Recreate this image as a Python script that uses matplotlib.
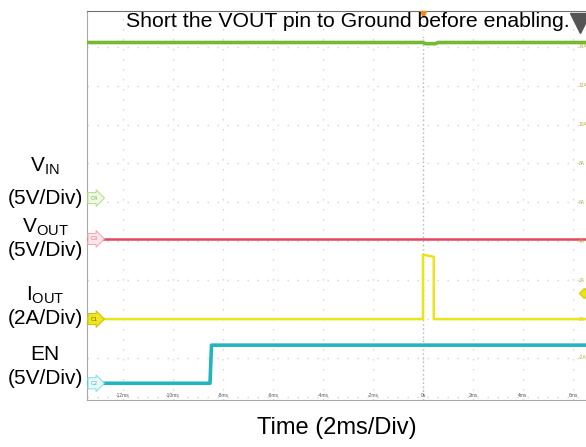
import numpy as np
import matplotlib.pyplot as plt
from matplotlib.patches import Rectangle

plt.rcParams['font.family'] = ['Liberation Sans', 'DejaVu Sans']
plt.rcParams['mathtext.fontset'] = 'custom'
plt.rcParams['mathtext.rm'] = 'Liberation Sans'
plt.rcParams['mathtext.default'] = 'regular'

# scope traces, time in ms
t_vin = [-13.5, 0.0, 0.1, 0.5, 0.6, 6.6]
vin = [20.0, 20.0, 19.85, 19.85, 20.0, 20.0]          # V

t_vout = [-13.5, 6.6]
vout = [0.0, 0.0]                                     # V

t_iout = [-13.5, 0.0, 0.0, 0.05, 0.43, 0.43, 6.6]
iout = [0.0, 0.0, 3.3, 3.3, 3.2, 0.0, 0.0]            # A

t_en = [-13.5, -8.52, -8.46, 6.6]
en = [0.0, 0.0, 4.9, 4.9]                             # V

time_ticks = [-12, -10, -8, -6, -4, -2, 0, 2, 4, 6]
time_labels = ['-12ms', '-10ms', '-8ms', '-6ms', '-4ms', '-2ms', '0s', '2ms', '4ms', '6ms']
div_rows = [-2, -1, 0, 1, 2, 3, 4, 5, 6, 7]
iout_per_div = 2  # A/Div, for the right hand scale labels
trig_level = 1.33  # A

# channel setup: (offset in div, units per div)
ch = {
    'C4': (3.11, 5.0),
    'C3': (2.06, 5.0),
    'C1': (0.0, 2.0),
    'C2': (-1.65, 5.0),
}


def to_div(vals, name):
    off, scale = ch[name]
    return [off + v / scale for v in vals]


W, H = 586, 447
fig = plt.figure(figsize=(W / 100, H / 100), dpi=100)
ax = fig.add_axes([87 / W, 1 - 400 / H, 1 - 87 / W, 389 / H])
ax.set_xlim(-13.44, 6.52)
ax.set_ylim(-2.08, 7.92)

# dotted scope grid
ax.set_xticks(time_ticks)
ax.set_yticks(div_rows)
ax.tick_params(length=0, labelbottom=False, labelleft=False)
ax.grid(True, color='#d4d4d4', linestyle=(0, (1, 6.2)), linewidth=1)
ax.axvline(0, color='#b4b4b4', linestyle=(0, (1, 2)), linewidth=1, zorder=1)

ax.spines['right'].set_visible(False)
ax.spines['top'].set_color('#707070')
ax.spines['left'].set_color('#a8a8a8')
ax.spines['bottom'].set_color('#a8a8a8')

# white strip behind the note at the top
ax.add_patch(Rectangle((0, (400 - 37) / 389), 1, 1, transform=ax.transAxes,
                       facecolor='white', edgecolor='none', zorder=1.5))

# traces
ax.plot(t_vin, to_div(vin, 'C4'), color='#76b82e', lw=2.6, zorder=3)
ax.plot(t_vout, to_div(vout, 'C3'), color='#e2465e', lw=1.8, zorder=3)
ax.plot(t_en, to_div(en, 'C2'), color='#22b5bf', lw=2.6, zorder=3)
ax.plot(t_iout, to_div(iout, 'C1'), color='#ece41a', lw=1.8, zorder=4)

# channel tags on the left
tag_style = {
    'C4': ('#eef8e2', '#b4dc88', '#8aa870'),
    'C3': ('#fde6ea', '#f2a2b2', '#d07080'),
    'C1': ('#efe522', '#c8bf00', '#707000'),
    'C2': ('#e6f9fb', '#86dde4', '#60a8b0'),
}
for name, (fc, ec, tc) in tag_style.items():
    ax.text(-13.14, ch[name][0], name, fontsize=4, color=tc, ha='center', va='center',
            zorder=5, bbox=dict(boxstyle='rarrow,pad=0.55', fc=fc, ec=ec, lw=0.7))

# time labels inside the screen
for t, lab in zip(time_ticks, time_labels):
    ax.text(t, -1.97, lab, fontsize=3.5, color='#555555', ha='center', va='center')

# IOUT scale on the right
for k in div_rows[1:]:
    ax.text(6.22, k, '%dA' % (k * iout_per_div), fontsize=3.5, color='#b8b040',
            ha='left', va='center', clip_on=False)

# markers
ax.plot([6.45], [trig_level / iout_per_div], marker='D', ms=5, color='#ece41a',
        mec='#d8d000', clip_on=False, zorder=5)
ax.plot([0], [7.84], marker='v', ms=5, color='#f08a20', clip_on=False, zorder=5)
ax.plot([6.3], [7.6], marker='v', ms=14, color='#555555', clip_on=False, zorder=5)

ax.text((348 - 87) / (W - 87), (400 - 22) / 389,
        'Short the VOUT pin to Ground before enabling.', transform=ax.transAxes,
        fontsize=15.3, ha='center', va='center', zorder=6)


def ftxt(x, y, s, **kw):
    fig.text(x / W, 1 - y / H, s, ha='center', fontsize=15, **kw)


ftxt(45, 172, 'V$_{IN}$', va='baseline')
ftxt(45, 198, '(5V/Div)', va='center')
ftxt(45, 233, 'V$_{OUT}$', va='baseline')
ftxt(45, 250, '(5V/Div)', va='center')
ftxt(45, 301, 'I$_{OUT}$', va='baseline')
ftxt(45, 319, '(2A/Div)', va='center')
ftxt(45, 354, 'EN', va='center')
ftxt(45, 379, '(5V/Div)', va='center')

fig.text(337 / W, 1 - 428 / H, 'Time (2ms/Div)', ha='center', va='center', fontsize=17)

fig.savefig('out.png', dpi=100)
